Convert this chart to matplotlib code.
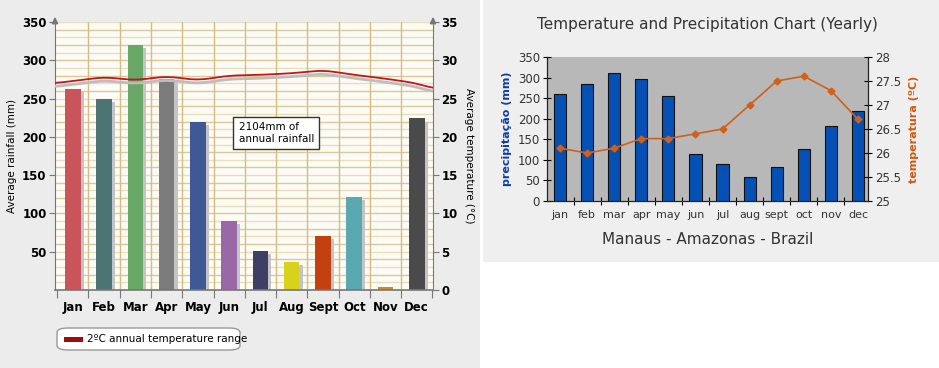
import numpy as np
import matplotlib
matplotlib.use('Agg')
import matplotlib.pyplot as plt
from matplotlib.patches import Rectangle, FancyBboxPatch

# left chart: monthly rainfall + temperature
months_l = ['Jan', 'Feb', 'Mar', 'Apr', 'May', 'Jun', 'Jul', 'Aug', 'Sept', 'Oct', 'Nov', 'Dec']
rain_l = [262, 250, 320, 275, 220, 90, 51, 36, 71, 121, 4, 224]
bar_colors_l = ['#c9545a', '#4b7472', '#68a765', '#7b7b7b', '#3e5894', '#9a68a6',
                '#3f3f66', '#d9d21a', '#c2410f', '#5aa9b0', '#c98e22', '#4a4a4a']
temp_l = [27.3, 27.8, 27.4, 27.9, 27.4, 28.0, 28.1, 28.3, 28.7, 28.1, 27.6, 27.0]
temp_l_edges = [27.0, 26.3]  # where the curve meets the left / right axis

# right chart: Manaus
months_r = ['jan', 'feb', 'mar', 'apr', 'may', 'jun', 'jul', 'aug', 'sept', 'oct', 'nov', 'dec']
rain_r = [259, 284, 312, 297, 256, 114, 89, 58, 83, 126, 182, 219]
temp_r = [26.1, 26.0, 26.1, 26.3, 26.3, 26.4, 26.5, 27.0, 27.5, 27.6, 27.3, 26.7]

fig = plt.figure(figsize=(9.39, 3.68), dpi=100)
fig.patch.set_facecolor('white')

# panel backgrounds
fig.patches.append(Rectangle((0, 0), 480 / 939, 1, transform=fig.transFigure,
                             facecolor='#ececec', edgecolor='none', zorder=-10))
fig.patches.append(Rectangle((483 / 939, 1 - 262 / 368), 456 / 939, 262 / 368,
                             transform=fig.transFigure, facecolor='#efefef',
                             edgecolor='none', zorder=-10))

# ---------------- left chart ----------------
ax = fig.add_axes([55 / 939, 1 - 290 / 368, 378 / 939, 268 / 368])
ax.set_facecolor('#fcfbf5')
x = np.arange(12)
ax.set_xlim(-0.57, 11.52)
ax.set_ylim(0, 350)

for v in range(10, 351, 10):
    ax.axhline(v, color='#dcc899' if v % 20 == 0 else '#eadfbd', lw=1.0, zorder=0)
for b in np.arange(0.5, 11.5, 1):
    ax.axvline(b, color='#d4bc84', lw=1.0, zorder=0)

# bar shadows then bars
ax.bar(x + 0.1, np.array(rain_l) - 4, width=0.5, color='#c4c4c4', zorder=2)
ax.bar(x, rain_l, width=0.5, color=bar_colors_l, zorder=3)

ax2 = ax.twinx()
ax2.set_ylim(0, 35)
tx = np.concatenate([[-0.57], x, [11.52]])
ty = np.concatenate([[temp_l_edges[0]], temp_l, [temp_l_edges[1]]])
xs = np.linspace(-0.57, 11.52, 400)
ys = np.interp(xs, tx, ty)
ys = np.convolve(np.pad(ys, 12, mode='edge'), np.ones(25) / 25, mode='valid')
ax2.plot(xs, ys - 0.45, color='#bdbdbd', lw=2.0, zorder=4)
ax2.plot(xs, ys, color='#c0161c', lw=1.3, zorder=5)

for a in (ax, ax2):
    for s in ('top', 'bottom'):
        a.spines[s].set_visible(False)
ax.spines['right'].set_visible(False)
ax2.spines['left'].set_visible(False)
ax.spines['left'].set_color('#777777')
ax2.spines['right'].set_color('#777777')
ax.axhline(0, color='#777777', lw=1.2, zorder=6, clip_on=False)

ax.set_yticks(range(50, 351, 50))
ax.tick_params(axis='y', length=4, color='#777777', labelsize=8.5, pad=2)
for lab in ax.get_yticklabels():
    lab.set_fontweight('bold')
ax2.set_yticks(range(0, 36, 5))
ax2.tick_params(axis='y', length=4, color='#777777', labelsize=8.5, pad=2)
for lab in ax2.get_yticklabels():
    lab.set_fontweight('bold')

ax.set_xticks(np.arange(-0.5, 12, 1), minor=False)
ax.set_xticklabels([])
ax.tick_params(axis='x', length=6, color='#777777', direction='out')
for i, m in enumerate(months_l):
    ax.text(i, -14, m, ha='center', va='top', fontsize=8.5, fontweight='bold')

ax.set_ylabel('Average rainfall (mm)', fontsize=7.5, labelpad=4)
ax2.set_ylabel('Average temperature (°C)', fontsize=7.5, rotation=-90, labelpad=12)

# arrow heads on the axes
for xa in (0, 1):
    ax.annotate('', xy=(xa, 1.03), xytext=(xa, 0.99), xycoords='axes fraction',
                arrowprops=dict(arrowstyle='-|>', color='#777777', lw=1.2,
                                mutation_scale=9))

ax.text(5.3, 205, '2104mm of\nannual rainfall', fontsize=7.5, ha='left', va='center',
        zorder=7, linespacing=1.3,
        bbox=dict(boxstyle='square,pad=0.5', facecolor='white', edgecolor='#333333', lw=1))

# legend box
leg = FancyBboxPatch((57 / 939, 1 - 350 / 368), 183 / 939, 22 / 368,
                     boxstyle='round,pad=0,rounding_size=0.012', transform=fig.transFigure,
                     facecolor='white', edgecolor='#999999', lw=1.0)
fig.patches.append(leg)
fig.patches.append(Rectangle((64 / 939, 1 - 342 / 368), 19 / 939, 5 / 368,
                             transform=fig.transFigure, facecolor='#a00a0e', edgecolor='none'))
fig.text(87 / 939, 1 - 339 / 368, '2ºC annual temperature range', fontsize=7.5, va='center')

# ---------------- right chart ----------------
bx = fig.add_axes([547 / 939, 1 - 201 / 368, 321 / 939, 144 / 368])
bx.set_facecolor('#b8b8b8')
bx.set_xlim(-0.48, 11.37)
bx.set_ylim(0, 350)
bx.bar(x, rain_r, width=0.45, color='#0550b4', edgecolor='#111111', lw=0.8, zorder=3)
bx.set_yticks(range(0, 351, 50))
bx.tick_params(axis='y', direction='inout', length=6, labelsize=8.5, pad=2,
               labelcolor='#333333')
bx.set_xticks(np.arange(0.5, 11.5, 1))
bx.set_xticklabels([])
bx.tick_params(axis='x', direction='inout', length=6)
for i, m in enumerate(months_r):
    bx.text(i, -22, m, ha='center', va='top', fontsize=8, color='#333333')
bx.set_ylabel('precipitação (mm)', fontsize=8, color='#0d3ea8', fontweight='bold', labelpad=4)
bx.set_xlabel('Manaus - Amazonas - Brazil', fontsize=11, color='#333333', labelpad=16)
bx.set_title('Temperature and Precipitation Chart (Yearly)', fontsize=11,
             color='#333333', pad=20)

bx2 = bx.twinx()
bx2.set_ylim(25, 28)
bx2.plot(x, temp_r, color='#d0601a', lw=1.2, marker='D', markersize=3.5, zorder=5)
bx2.set_yticks(np.arange(25, 28.01, 0.5))
bx2.set_yticklabels(['25', '25.5', '26', '26.5', '27', '27.5', '28'])
bx2.tick_params(axis='y', direction='inout', length=6, labelsize=8.5, pad=2,
                labelcolor='#333333')
bx2.set_ylabel('temperatura (ºC)', fontsize=8, color='#cc5a14', fontweight='bold', labelpad=6)
for a in (bx, bx2):
    a.spines['top'].set_visible(False)
    for s in ('left', 'right', 'bottom'):
        a.spines[s].set_color('#222222')

fig.savefig('out.png', dpi=100)
